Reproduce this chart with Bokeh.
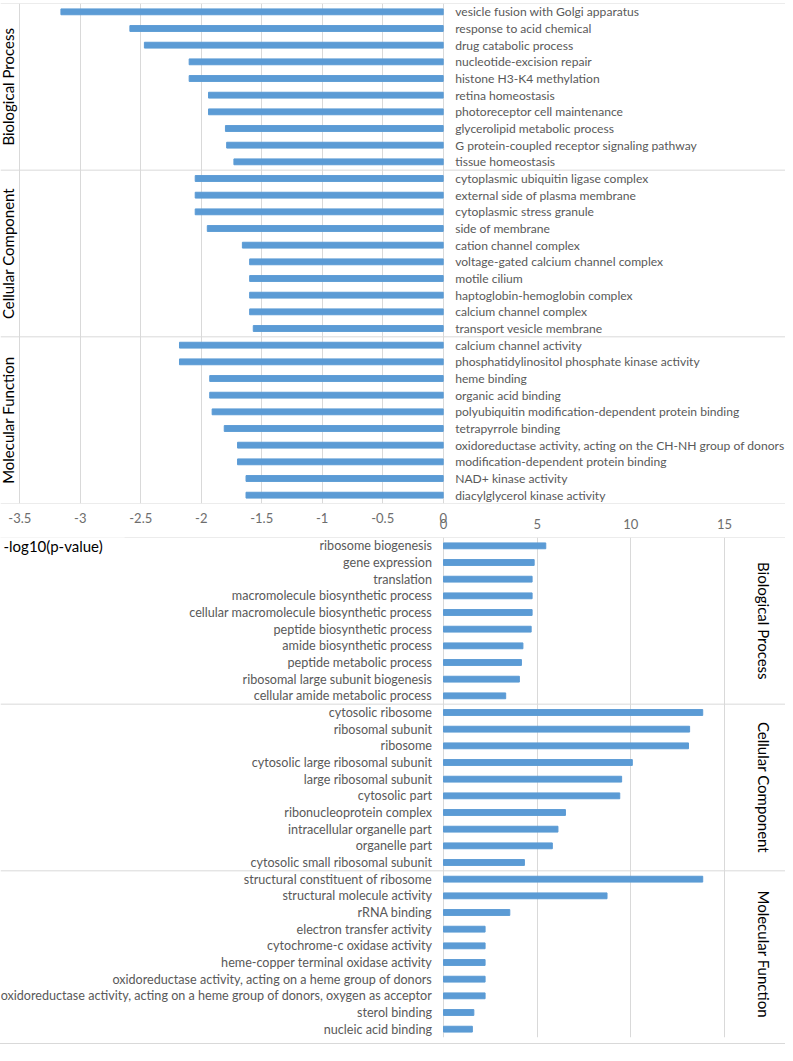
import numpy as np
from bokeh.plotting import figure
from bokeh.models import Range1d, FixedTicker, Span, Label
from bokeh.layouts import column
from bokeh.embed import file_html
from bokeh.resources import INLINE
from bokeh.core.properties import value

# ---------------- data ----------------
groups = ["Biological Process", "Cellular Component", "Molecular Function"]
group_sizes = [10, 10, 10]

top_terms = [
    "vesicle fusion with Golgi apparatus", "response to acid chemical", "drug catabolic process",
    "nucleotide-excision repair", "histone H3-K4 methylation", "retina homeostasis",
    "photoreceptor cell maintenance", "glycerolipid metabolic process",
    "G protein-coupled receptor signaling pathway", "tissue homeostasis",
    "cytoplasmic ubiquitin ligase complex", "external side of plasma membrane",
    "cytoplasmic stress granule", "side of membrane", "cation channel complex",
    "voltage-gated calcium channel complex", "motile cilium", "haptoglobin-hemoglobin complex",
    "calcium channel complex", "transport vesicle membrane",
    "calcium channel activity", "phosphatidylinositol phosphate kinase activity", "heme binding",
    "organic acid binding", "polyubiquitin modification-dependent protein binding",
    "tetrapyrrole binding", "oxidoreductase activity, acting on the CH-NH group of donors",
    "modification-dependent protein binding", "NAD+ kinase activity", "diacylglycerol kinase activity",
]
top_values = [
    -3.16, -2.59, -2.47, -2.10, -2.10, -1.94, -1.94, -1.80, -1.79, -1.73,
    -2.05, -2.05, -2.05, -1.95, -1.66, -1.60, -1.60, -1.60, -1.60, -1.57,
    -2.18, -2.18, -1.93, -1.93, -1.91, -1.81, -1.70, -1.70, -1.63, -1.63,
]

bottom_terms = [
    "ribosome biogenesis", "gene expression", "translation", "macromolecule biosynthetic process",
    "cellular macromolecule biosynthetic process", "peptide biosynthetic process",
    "amide biosynthetic process", "peptide metabolic process",
    "ribosomal large subunit biogenesis", "cellular amide metabolic process",
    "cytosolic ribosome", "ribosomal subunit", "ribosome", "cytosolic large ribosomal subunit",
    "large ribosomal subunit", "cytosolic part", "ribonucleoprotein complex",
    "intracellular organelle part", "organelle part", "cytosolic small ribosomal subunit",
    "structural constituent of ribosome", "structural molecule activity", "rRNA binding",
    "electron transfer activity", "cytochrome-c oxidase activity",
    "heme-copper terminal oxidase activity",
    "oxidoreductase activity, acting on a heme group of donors",
    "oxidoreductase activity, acting on a heme group of donors, oxygen as acceptor",
    "sterol binding", "nucleic acid binding",
]
bottom_values = [
    5.46, 4.84, 4.73, 4.73, 4.73, 4.68, 4.24, 4.16, 4.05, 3.32,
    13.84, 13.14, 13.08, 10.08, 9.51, 9.41, 6.51, 6.11, 5.81, 4.32,
    13.84, 8.73, 3.54, 2.22, 2.22, 2.22, 2.22, 2.22, 1.62, 1.54,
]

top_ticks = [-3.5, -3, -2.5, -2, -1.5, -1, -0.5, 0]
top_tick_labels = ["-3.5", "-3", "-2.5", "-2", "-1.5", "-1", "-0.5", "0"]
bottom_ticks = [0, 5, 10, 15]
bottom_tick_labels = ["0", "5", "10", "15"]
x_title = "-log10(p-value)"

# ---------------- styling ----------------
FONT = "Lato"
BAR = "#5b9bd5"
GRID = "#d9d9d9"
LABEL_C = "#595959"
TICK_C = "#6d6d6d"

n = len(top_terms)
rows = np.arange(n) + 0.5
bounds = np.concatenate([[0], np.cumsum(group_sizes)])
centers = (bounds[:-1] + bounds[1:]) / 2


def style_axis(ax, ticks, labels, standoff):
    ax.ticker = FixedTicker(ticks=ticks)
    ax.major_label_overrides = {t: l for t, l in zip(ticks, labels)}
    ax.axis_line_color = None
    ax.major_tick_line_color = None
    ax.minor_tick_line_color = None
    ax.major_tick_out = 0
    ax.major_tick_in = 0
    ax.major_label_standoff = standoff
    ax.major_label_text_font = FONT
    ax.major_label_text_font_size = "13px"
    ax.major_label_text_color = TICK_C


# ---------------- top chart ----------------
p1 = figure(width=785, height=531, x_range=Range1d(-3.6596, 2.8297), y_range=Range1d(n, 0),
            output_backend="svg", toolbar_location=None, y_axis_location=None,
            min_border_left=0, min_border_right=0, min_border_top=3, min_border_bottom=28,
            outline_line_color=None)
p1.hbar(y=rows, left=top_values, right=0, height=0.35, color=BAR)
p1.text(x=0, y=rows, text=top_terms, x_offset=12, text_align="left", text_baseline="middle",
        text_font=value(FONT), text_font_size="12.1px", text_color=LABEL_C)
style_axis(p1.xaxis[0], top_ticks, top_tick_labels, 9)
p1.xgrid.ticker = FixedTicker(ticks=top_ticks)
p1.xgrid.grid_line_color = GRID
p1.ygrid.visible = False
for b in bounds:
    p1.add_layout(Span(location=b, dimension="width", line_color=GRID, line_width=1))
for g, c in zip(groups, centers):
    p1.add_layout(Label(x=7, y=c, x_units="screen", text=g, angle=np.pi / 2,
                        text_align="center", text_baseline="middle", text_font=FONT,
                        text_font_size="15px", text_color="black"))

# ---------------- bottom chart ----------------
p2 = figure(width=785, height=535, x_range=Range1d(-23.652, 18.259), y_range=Range1d(n, 0),
            output_backend="svg", toolbar_location=None, y_axis_location=None,
            x_axis_location="above",
            min_border_left=0, min_border_right=0, min_border_top=28, min_border_bottom=7,
            outline_line_color=None, border_fill_color=None, margin=(-22, 0, 0, 0),
            styles={"border-bottom": "1px solid #d9d9d9"})
p2.hbar(y=rows, left=0, right=bottom_values, height=0.35, color=BAR)
p2.text(x=0, y=rows, text=bottom_terms, x_offset=-11.5, text_align="right", text_baseline="middle",
        text_font=value(FONT), text_font_size="12.6px", text_color=LABEL_C)
style_axis(p2.xaxis[0], bottom_ticks, bottom_tick_labels, 9)
p2.xgrid.ticker = FixedTicker(ticks=bottom_ticks)
p2.xgrid.grid_line_color = GRID
p2.ygrid.visible = False
for b in bounds[:-1]:
    p2.add_layout(Span(location=b, dimension="width", line_color=GRID, line_width=1))
for g, c in zip(groups, centers):
    p2.add_layout(Label(x=763, y=c, x_units="screen", text=g, angle=-np.pi / 2,
                        text_align="center", text_baseline="middle", text_font=FONT,
                        text_font_size="15px", text_color="black"))
p2.add_layout(Label(x=0, y=0.42, x_units="screen", text=x_title, text_align="left",
                    text_baseline="middle", text_font=FONT, text_font_size="15px",
                    text_color="black", background_fill_color="white",
                    padding=(3, 22, 3, 1)))

layout = column(p1, p2)
open("out.html", "w").write(file_html(layout, INLINE, title="GO enrichment"))
